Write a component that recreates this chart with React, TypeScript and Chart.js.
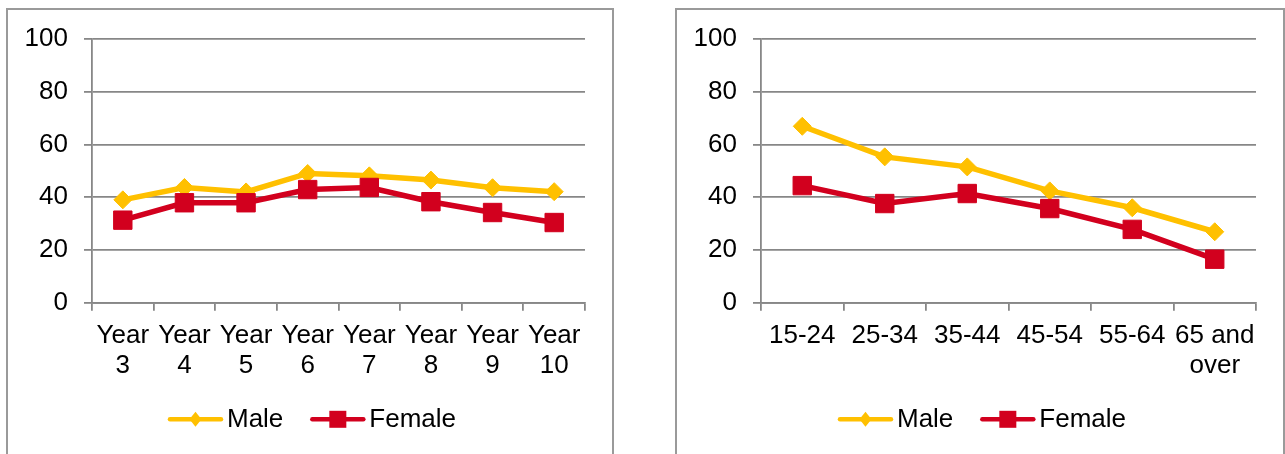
import React, { useEffect, useRef } from "react";
import { Chart, registerables } from "chart.js";

Chart.register(...registerables);

// ---- data ----
const yearLabels = [
  ["Year", "3"],
  ["Year", "4"],
  ["Year", "5"],
  ["Year", "6"],
  ["Year", "7"],
  ["Year", "8"],
  ["Year", "9"],
  ["Year", "10"],
];
const maleByYear = [39.0, 43.7, 42.0, 49.0, 48.1, 46.5, 43.6, 42.1];
const femaleByYear = [31.3, 37.9, 37.9, 42.9, 43.7, 38.3, 34.2, 30.4];

const ageLabels = ["15-24", "25-34", "35-44", "45-54", "55-64", ["65 and", "over"]];
const maleByAge = [66.9, 55.3, 51.5, 42.4, 36.0, 26.9];
const femaleByAge = [44.4, 37.6, 41.4, 35.7, 27.8, 16.5];

const seriesNames = ["Male", "Female"];
const yMin = 0;
const yMax = 100;
const yStep = 20;

// ---- styles ----
const MALE_COLOR = "#FFC000";
const FEMALE_COLOR = "#D2001E";
const GRID_COLOR = "#878787";
const FONT_FAMILY = '"Liberation Sans", Arial, sans-serif';
const FONT_SIZE = 26;

const legendPlugin = {
  id: "lineMarkerLegend",
  afterDraw(chart: any) {
    const ctx = chart.ctx as CanvasRenderingContext2D;
    ctx.save();
    ctx.font = `${FONT_SIZE}px ${FONT_FAMILY}`;
    const lineLen = 55;
    const textGap = 4;
    const itemGap = 27;
    const items = chart.data.datasets.map((ds: any) => ({
      text: ds.label as string,
      color: ds.borderColor as string,
      style: ds.pointStyle as string,
      w: ctx.measureText(ds.label).width,
    }));
    const total =
      items.reduce((s: number, it: any) => s + lineLen + textGap + it.w, 0) +
      itemGap * (items.length - 1);
    let x = (chart.width - total) / 2 + 2;
    const y = chart.chartArea.bottom + 116.6;
    for (const it of items) {
      ctx.strokeStyle = it.color;
      ctx.fillStyle = it.color;
      ctx.lineWidth = 4.5;
      ctx.lineCap = "round";
      ctx.beginPath();
      ctx.moveTo(x + 2, y);
      ctx.lineTo(x + lineLen - 2, y);
      ctx.stroke();
      const cx = x + lineLen / 2;
      ctx.beginPath();
      if (it.style === "rectRot") {
        ctx.moveTo(cx, y - 7.5);
        ctx.lineTo(cx + 6, y);
        ctx.lineTo(cx, y + 7.5);
        ctx.lineTo(cx - 6, y);
        ctx.closePath();
      } else {
        ctx.rect(cx - 8.5, y - 8.5, 17, 17);
      }
      ctx.fill();
      ctx.fillStyle = "#000";
      ctx.textBaseline = "middle";
      ctx.textAlign = "left";
      ctx.fillText(it.text, x + lineLen + textGap, y + 1);
      x += lineLen + textGap + it.w + itemGap;
    }
    ctx.restore();
  },
};

function makeConfig(labels: any[], male: number[], female: number[]): any {
  return {
    type: "line",
    data: {
      labels,
      datasets: [
        {
          label: seriesNames[0],
          data: male,
          borderColor: MALE_COLOR,
          backgroundColor: MALE_COLOR,
          borderWidth: 5.5,
          pointStyle: "rectRot",
          pointRadius: 9,
          pointBorderWidth: 1,
          tension: 0,
          order: 1,
        },
        {
          label: seriesNames[1],
          data: female,
          borderColor: FEMALE_COLOR,
          backgroundColor: FEMALE_COLOR,
          borderWidth: 5.5,
          pointStyle: "rect",
          pointRadius: 13,
          pointBorderWidth: 1,
          tension: 0,
          order: 0,
        },
      ],
    },
    options: {
      responsive: false,
      animation: false,
      events: [],
      layout: { padding: { left: 0, right: 27, top: 29, bottom: 67.3 } },
      plugins: {
        legend: { display: false },
        tooltip: { enabled: false },
        title: { display: false },
      },
      scales: {
        x: {
          offset: true,
          afterFit: (s: any) => {
            s.height = 100;
            s.paddingLeft = 0;
            s.paddingRight = 0;
          },
          grid: {
            offset: true,
            drawOnChartArea: false,
            drawTicks: true,
            tickLength: 8,
            color: GRID_COLOR,
            lineWidth: 1.8,
          },
          border: { display: true, color: GRID_COLOR, width: 1.8 },
          ticks: {
            autoSkip: false,
            maxRotation: 0,
            minRotation: 0,
            padding: 10,
            color: "#000",
            font: { family: FONT_FAMILY, size: FONT_SIZE, lineHeight: 1.16 },
          },
        },
        y: {
          min: yMin,
          max: yMax,
          afterFit: (s: any) => {
            s.width = 84;
            s.paddingTop = 0;
            s.paddingBottom = 0;
          },
          ticks: {
            stepSize: yStep,
            padding: 16,
            color: "#000",
            font: { family: FONT_FAMILY, size: FONT_SIZE },
          },
          grid: {
            color: GRID_COLOR,
            lineWidth: 1.8,
            tickLength: 8,
            drawTicks: true,
          },
          border: { display: true, color: GRID_COLOR, width: 1.8 },
        },
      },
    },
    plugins: [legendPlugin],
  };
}

function LineChartBox(props: {
  left: number;
  width: number;
  labels: any[];
  male: number[];
  female: number[];
}) {
  const ref = useRef<HTMLCanvasElement | null>(null);
  const innerW = props.width - 4;
  useEffect(() => {
    if (!ref.current) return;
    const chart = new Chart(ref.current, makeConfig(props.labels, props.male, props.female));
    return () => chart.destroy();
  }, []);
  return (
    <div
      style={{
        position: "absolute",
        left: props.left,
        top: 8,
        width: props.width,
        height: 470,
        boxSizing: "border-box",
        border: "2px solid #9a9a9a",
        background: "#fff",
      }}
    >
      <canvas
        ref={ref}
        width={innerW}
        height={460}
        style={{ position: "absolute", left: 0, top: 0, width: innerW, height: 460 }}
      />
    </div>
  );
}

export default function App() {
  return (
    <div
      style={{
        position: "fixed",
        left: 0,
        top: 0,
        width: 1285,
        height: 454,
        overflow: "hidden",
        background: "#fff",
      }}
    >
      <LineChartBox left={6} width={608} labels={yearLabels} male={maleByYear} female={femaleByYear} />
      <LineChartBox left={675} width={610} labels={ageLabels} male={maleByAge} female={femaleByAge} />
    </div>
  );
}
